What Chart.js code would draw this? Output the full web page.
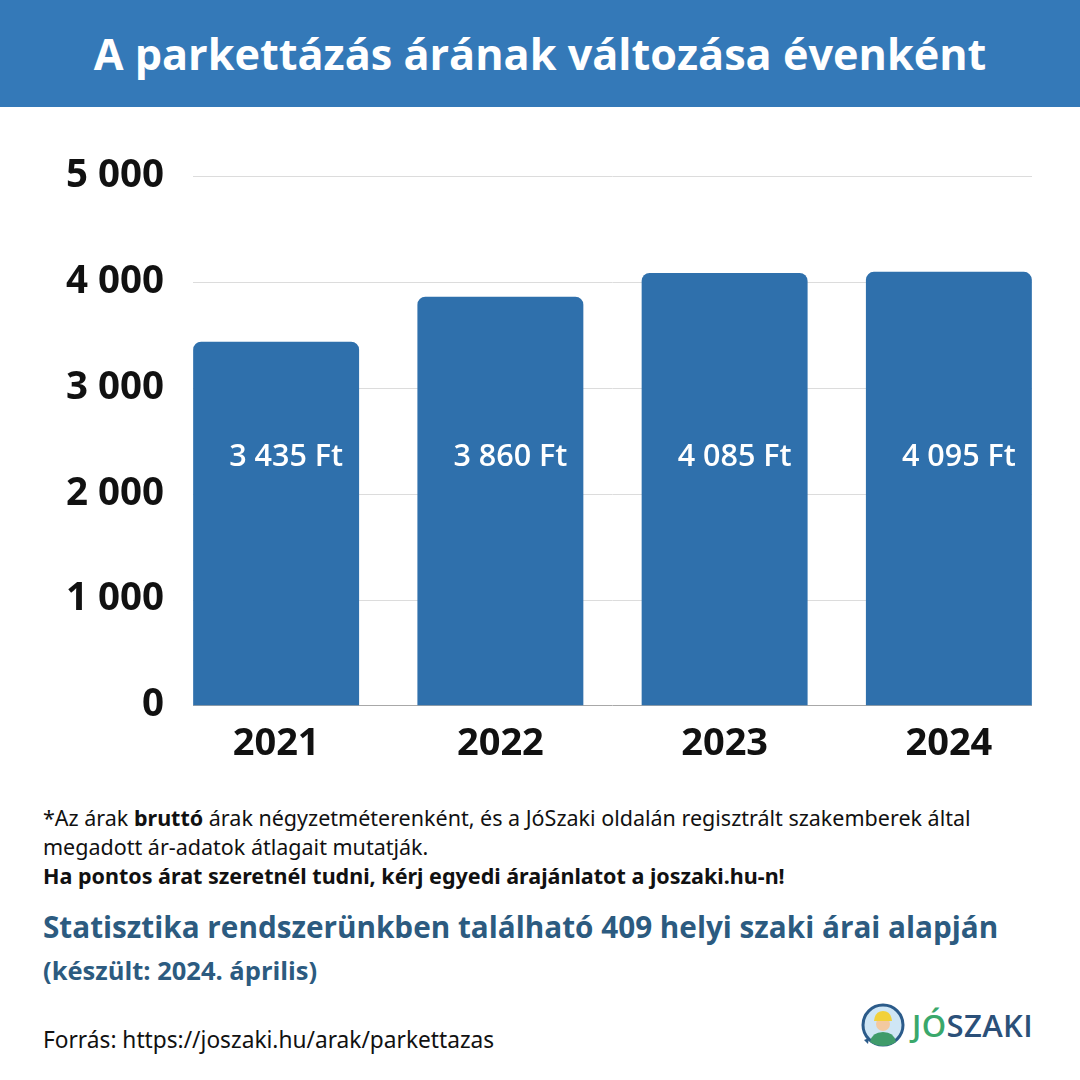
<!DOCTYPE html>
<html><head><meta charset="utf-8">
<script src="https://cdn.jsdelivr.net/npm/chart.js@4"></script>
<style>
html,body{margin:0;padding:0;background:#fff;}
#page{position:relative;width:1080px;height:1080px;overflow:hidden;background:#fff;font-family:"Noto Sans",sans-serif;}
#hdr{position:absolute;left:0;top:0;width:1080px;height:107px;background:#3479b8;color:#fff;font-family:"Open Sans",sans-serif;font-weight:700;font-size:43.2px;text-align:center;line-height:107px;}
#cw{position:absolute;left:0;top:150px;width:1080px;height:642px;}
.t{position:absolute;left:43px;white-space:nowrap;}
#n1{top:803px;font-size:21.5px;color:#111;line-height:29px;}
#st{top:906px;font-size:29.7px;font-weight:700;color:#2c5b80;font-family:"Open Sans",sans-serif;}
#ks{top:953px;font-size:25.5px;font-weight:700;color:#2c5b80;font-family:"Open Sans",sans-serif;}
#src{top:1024px;font-size:22.7px;color:#111;}
#logo{position:absolute;left:860px;top:1002px;height:46px;display:flex;align-items:center;}
#logo span{font-family:"Open Sans",sans-serif;font-weight:600;font-size:31px;letter-spacing:0.4px;}
</style></head><body>
<div id="page">
<div id="hdr">A parkettázás árának változása évenként</div>
<div id="cw"><canvas id="c"></canvas></div>
<div class="t" id="n1">*Az árak <b>bruttó</b> árak négyzetméterenként, és a JóSzaki oldalán regisztrált szakemberek által<br>megadott ár-adatok átlagait mutatják.<br><b>Ha pontos árat szeretnél tudni, kérj egyedi árajánlatot a joszaki.hu-n!</b></div>
<div class="t" id="st">Statisztika rendszerünkben található 409 helyi szaki árai alapján</div>
<div class="t" id="ks">(készült: 2024. április)</div>
<div class="t" id="src">Forrás: https://joszaki.hu/arak/parkettazas</div>
<div id="logo">
<svg width="46" height="46" viewBox="0 0 46 46">
<circle cx="23" cy="23" r="20" fill="#cfe6f5" stroke="#2b5b8a" stroke-width="3"/>
<path d="M10 40 Q12 30 23 30 Q34 30 36 40 Q30 44 23 44 Q16 44 10 40Z" fill="#3f9b6a"/>
<circle cx="23" cy="22" r="7" fill="#f3c9a0"/>
<path d="M14 19 Q15 9 23 9 Q31 9 32 19Z" fill="#f2d13b"/>
<path d="M4 38 L9 36 L8 42Z" fill="#2b5b8a"/>
</svg>
<span style="color:#3aa86b;margin-left:6px">JÓ</span><span style="color:#2b5079">SZAKI</span>
</div>
</div>
<script>
const categories = ["2021","2022","2023","2024"];
const prices = [3435, 3860, 4085, 4095];
const priceLabels = ["3 435 Ft","3 860 Ft","4 085 Ft","4 095 Ft"];
const yTicks = [0,1000,2000,3000,4000,5000];
const labelValue = 2345;

function fmt(v){return String(v).replace(/\B(?=(\d{3})+(?!\d))/g," ");}

const gridPlugin = {
  id:'grid2',
  beforeDatasetsDraw(chart){
    const ctx = chart.ctx, ys = chart.scales.y;
    const meta = chart.getDatasetMeta(0);
    const b0 = meta.data[0], bN = meta.data[meta.data.length-1];
    const x0 = Math.round(b0.x - b0.width/2), x1 = Math.round(bN.x + bN.width/2);
    ctx.save();
    yTicks.forEach(v=>{
      const y = Math.round(ys.getPixelForValue(v)) + 0.5;
      ctx.strokeStyle = v===0 ? '#a8a8a8' : '#dcdcdc';
      ctx.lineWidth = 1;
      ctx.beginPath(); ctx.moveTo(x0,y); ctx.lineTo(x1,y); ctx.stroke();
    });
    ctx.restore();
  }
};

const valuePlugin = {
  id:'vals',
  afterDatasetsDraw(chart){
    const ctx = chart.ctx;
    const meta = chart.getDatasetMeta(0);
    const y = chart.scales.y.getPixelForValue(labelValue);
    ctx.save();
    ctx.fillStyle = '#ffffff';
    ctx.font = '600 30.5px "Open Sans", sans-serif';
    ctx.textAlign = 'right';
    ctx.textBaseline = 'middle';
    meta.data.forEach((bar,i)=>{
      ctx.fillText(priceLabels[i], bar.x + bar.width/2 - 16, y);
    });
    ctx.restore();
  }
};

new Chart(document.getElementById('c'),{
  type:'bar',
  data:{labels:categories,datasets:[{data:prices,backgroundColor:'#2f70ac',borderRadius:{topLeft:8,topRight:8,bottomLeft:0,bottomRight:0},borderSkipped:'bottom',categoryPercentage:1,barPercentage:0.74}]},
  options:{
    responsive:true,maintainAspectRatio:false,animation:false,
    layout:{padding:{top:26,right:19,bottom:9,left:0}},
    plugins:{legend:{display:false},tooltip:{enabled:false}},
    scales:{
      x:{grid:{display:false,drawTicks:false},border:{display:false},
         ticks:{color:'#111',padding:16,font:{family:'"Open Sans", sans-serif',weight:'bold',size:38}}},
      y:{min:0,max:5000,afterFit(s){s.width=164;},
         afterBuildTicks(s){s.ticks=yTicks.map(v=>({value:v}));},
         grid:{display:false,drawTicks:false},border:{display:false},
         ticks:{color:'#111',padding:0,callback:v=>fmt(v),font:{family:'"Open Sans", sans-serif',weight:'bold',size:38.5}}}
    }
  },
  plugins:[gridPlugin,valuePlugin]
});
</script>
</body></html>
